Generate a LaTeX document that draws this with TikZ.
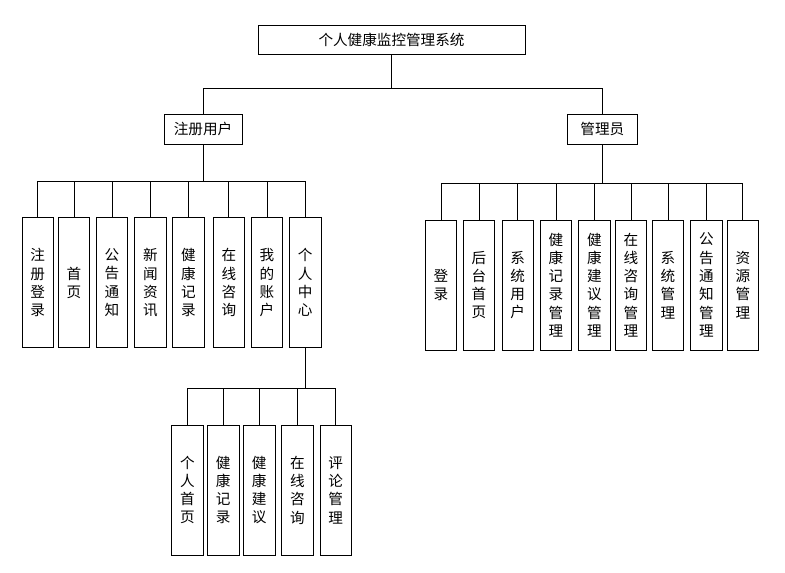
\documentclass[tikz,border=0pt]{standalone}
\usepackage{fontspec}
\newfontfamily\cjk{Noto Sans CJK SC}
\tikzset{
  box/.style={draw, line width=0.8pt, inner sep=0pt, font={\cjk\fontsize{14.6}{18.3}\selectfont}},
  wide/.style={box, minimum height=30pt},
  tall/.style={box, minimum width=31.5pt, minimum height=130pt, align=center},
  link/.style={line width=0.8pt}
}
\begin{document}
\begin{tikzpicture}[x=1pt, y=-1pt]
\useasboundingbox (0,0) rectangle (785,573);
% Top levels
\node[wide, minimum width=267pt, minimum height=29pt] (root) at (391.5,39.5) {个人健康监控管理系统};
\node[wide, minimum width=78pt] (user) at (203,129) {注册用户};
\node[wide, minimum width=70pt] (admin) at (602.3,129) {管理员};
% Modules of registered user
\node[tall] (reg) at (37.7,282.7) {注\\册\\登\\录};
\node[tall] (home) at (74,282.7) {首\\页};
\node[tall] (notice) at (112,282.7) {公\\告\\通\\知};
\node[tall] (news) at (150.3,282.7) {新\\闻\\资\\讯};
\node[tall] (record) at (188.3,282.7) {健\\康\\记\\录};
\node[tall] (consult) at (228.8,282.7) {在\\线\\咨\\询};
\node[tall] (account) at (267,282.7) {我\\的\\账\\户};
\node[tall] (center) at (305.2,282.7) {个\\人\\中\\心};
% Modules of personal center
\node[tall] (pinfo) at (187.5,490) {个\\人\\首\\页};
\node[tall] (precord) at (223.2,490) {健\\康\\记\\录};
\node[tall] (advice) at (259.2,490) {健\\康\\建\\议};
\node[tall] (pconsult) at (297.5,490) {在\\线\\咨\\询};
\node[tall] (comment) at (335.7,490) {评\\论\\管\\理};
% Modules of administrator
\node[tall] (login) at (441,285) {登\\录};
\node[tall] (dash) at (479,285) {后\\台\\首\\页};
\node[tall] (sysuser) at (517.7,285) {系\\统\\用\\户};
\node[tall] (recmgr) at (556,285) {健\\康\\记\\录\\管\\理};
\node[tall] (advmgr) at (594.3,285) {健\\康\\建\\议\\管\\理};
\node[tall] (conmgr) at (631,285) {在\\线\\咨\\询\\管\\理};
\node[tall] (sysmgr) at (668,285) {系\\统\\管\\理};
\node[tall] (notmgr) at (706.3,285) {公\\告\\通\\知\\管\\理};
\node[tall] (resmgr) at (742.8,285) {资\\源\\管\\理};
% Lines from the system
\draw[link] (root.south) -- ++(0,34) -| (user.north);
\draw[link] (root.south) -- ++(0,34) -| (admin.north);
% Lines from registered user
\draw[link] (user.south) -- ++(0,37) -| (reg.north);
\draw[link] (user.south) -- ++(0,37) -| (home.north);
\draw[link] (user.south) -- ++(0,37) -| (notice.north);
\draw[link] (user.south) -- ++(0,37) -| (news.north);
\draw[link] (user.south) -- ++(0,37) -| (record.north);
\draw[link] (user.south) -- ++(0,37) -| (consult.north);
\draw[link] (user.south) -- ++(0,37) -| (account.north);
\draw[link] (user.south) -- ++(0,37) -| (center.north);
% Lines from personal center
\draw[link] (center.south) -- ++(0,40.3) -| (pinfo.north);
\draw[link] (center.south) -- ++(0,40.3) -| (precord.north);
\draw[link] (center.south) -- ++(0,40.3) -| (advice.north);
\draw[link] (center.south) -- ++(0,40.3) -| (pconsult.north);
\draw[link] (center.south) -- ++(0,40.3) -| (comment.north);
% Lines from administrator
\draw[link] (admin.south) -- ++(0,39) -| (login.north);
\draw[link] (admin.south) -- ++(0,39) -| (dash.north);
\draw[link] (admin.south) -- ++(0,39) -| (sysuser.north);
\draw[link] (admin.south) -- ++(0,39) -| (recmgr.north);
\draw[link] (admin.south) -- ++(0,39) -| (advmgr.north);
\draw[link] (admin.south) -- ++(0,39) -| (conmgr.north);
\draw[link] (admin.south) -- ++(0,39) -| (sysmgr.north);
\draw[link] (admin.south) -- ++(0,39) -| (notmgr.north);
\draw[link] (admin.south) -- ++(0,39) -| (resmgr.north);
\end{tikzpicture}
\end{document}
